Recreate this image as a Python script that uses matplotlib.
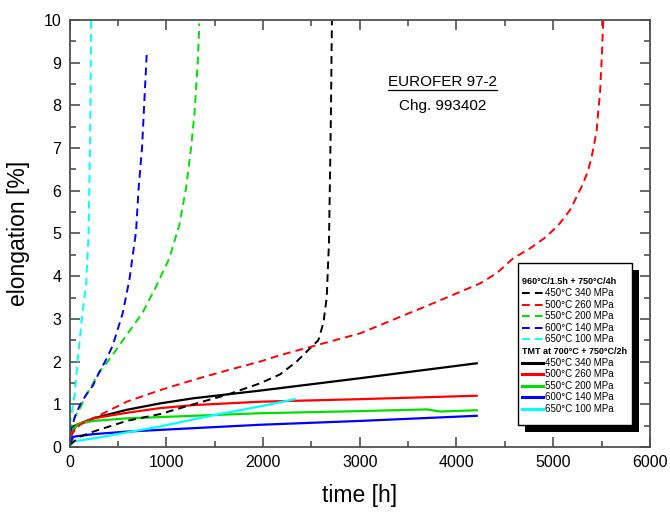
import matplotlib.pyplot as plt
from matplotlib.patches import Rectangle

plt.rcParams['font.family'] = ['Liberation Sans', 'DejaVu Sans']

# 960°C/1.5h + 750°C/4h (dashed)
t_d450 = [0, 106, 244, 589, 934, 1278, 1623, 1968, 2175, 2347, 2485, 2571, 2623, 2658, 2681, 2692, 2702, 2709, 2712]
e_d450 = [0.05, 0.24, 0.36, 0.61, 0.77, 1.0, 1.22, 1.49, 1.7, 2.0, 2.31, 2.5, 2.9, 3.5, 4.77, 6.33, 7.89, 9.45, 10.0]
t_d500 = [0, 106, 244, 589, 934, 1278, 1623, 1968, 2175, 3002, 3795, 4243, 4416, 4587, 4760, 4933, 5070,
          5174, 5243, 5311, 5363, 5398, 5425, 5450, 5467, 5484, 5501, 5518]
e_d500 = [0.25, 0.52, 0.67, 1.06, 1.33, 1.57, 1.79, 2.0, 2.15, 2.66, 3.4, 3.83, 4.07, 4.42, 4.65, 4.93, 5.24,
          5.55, 5.86, 6.18, 6.49, 6.8, 7.11, 7.42, 7.89, 8.28, 9.06, 10.0]
t_d550 = [0, 50, 106, 169, 203, 306, 393, 479, 582, 755, 892, 1030, 1134, 1203, 1255, 1289, 1323, 1341]
e_d550 = [0.35, 0.7, 0.9, 1.22, 1.33, 1.76, 2.0, 2.27, 2.6, 3.15, 3.75, 4.42, 5.2, 6.06, 7.0, 7.78, 8.95, 9.92]
t_d600 = [0, 55, 106, 169, 244, 272, 375, 444, 548, 617, 686, 713, 748, 772, 796]
e_d600 = [0.3, 0.71, 0.98, 1.22, 1.45, 1.6, 2.04, 2.37, 3.13, 3.91, 5.04, 6.06, 7.0, 8.09, 9.18]
t_d650 = [0, 50, 90, 130, 170, 195, 210, 222]
e_d650 = [0.5, 1.2, 2.2, 3.1, 3.8, 5.0, 7.0, 10.0]

# TMT at 700°C + 750°C/2h (solid)
t_s450 = [0, 38, 244, 589, 934, 1278, 1623, 1968, 3002, 4209]
e_s450 = [0.1, 0.48, 0.67, 0.87, 1.02, 1.14, 1.23, 1.32, 1.61, 1.96]
t_s500 = [0, 72, 244, 589, 934, 1278, 1623, 1968, 3002, 4209]
e_s500 = [0.2, 0.52, 0.67, 0.8, 0.91, 0.98, 1.02, 1.06, 1.12, 1.2]
t_s550 = [0, 20, 106, 244, 589, 1278, 1968, 3002, 3693, 3831, 4209]
e_s550 = [0.2, 0.4, 0.55, 0.61, 0.67, 0.73, 0.79, 0.84, 0.88, 0.83, 0.86]
t_s600 = [0, 38, 244, 589, 1278, 1968, 3002, 4209]
e_s600 = [0.05, 0.24, 0.3, 0.36, 0.44, 0.52, 0.61, 0.73]
t_s650 = [0, 40, 244, 934, 1500, 1968, 2330]
e_s650 = [0.0, 0.13, 0.2, 0.48, 0.75, 0.95, 1.12]

labels = ["450°C 340 MPa", "500°C 260 MPa", "550°C 200 MPa", "600°C 140 MPa", "650°C 100 MPa"]
headers = ["960°C/1.5h + 750°C/4h", "TMT at 700°C + 750°C/2h"]
colors = ["black", "red", "#00e000", "blue", "cyan"]
dashed = [(t_d450, e_d450), (t_d500, e_d500), (t_d550, e_d550), (t_d600, e_d600), (t_d650, e_d650)]
solid = [(t_s450, e_s450), (t_s500, e_s500), (t_s550, e_s550), (t_s600, e_s600), (t_s650, e_s650)]

fig = plt.figure(figsize=(6.7, 5.12), dpi=100)
ax = fig.add_axes([0.104, 0.127, 0.866, 0.834])

dash = (0, (4, 2.6))
for (t, e), c in zip(solid, colors):
    ax.plot(t, e, color=c, lw=1.6)
for (t, e), c in zip(dashed, colors):
    ax.plot(t, e, color=c, lw=1.4, ls=dash)

ax.set_xlim(0, 6000)
ax.set_ylim(0, 10)
ax.set_xticks(range(0, 6001, 1000))
ax.set_xticks(range(500, 6000, 1000), minor=True)
ax.set_yticks(range(0, 11))
ax.set_yticks([i + 0.5 for i in range(10)], minor=True)
sc = '#505050'
for s in ax.spines.values():
    s.set_color(sc)
    s.set_linewidth(1.3)
ax.tick_params(which='both', direction='in', top=True, right=True, color=sc, width=1.2,
               labelsize=11.5, pad=6)
ax.tick_params(which='major', length=7)
ax.tick_params(which='minor', length=4)
ax.set_xlabel("time [h]", fontsize=16.5, labelpad=10)
ax.set_ylabel("elongation [%]", fontsize=16.5, labelpad=10)

t1 = ax.text(0.643, 0.845, "EUROFER 97-2", transform=ax.transAxes, ha='center', va='baseline', fontsize=11)
ax.text(0.643, 0.789, "Chg. 993402", transform=ax.transAxes, ha='center', va='baseline', fontsize=11)

# legend box with black drop shadow (axes fraction)
bx0, bx1, by0, by1 = 0.7726, 0.9689, 0.0515, 0.4309
sdx, sdy = 0.012, 0.0164
ax.add_patch(Rectangle((bx0 + sdx, by0 - sdy), bx1 - bx0, by1 - by0, transform=ax.transAxes,
                       facecolor='black', edgecolor='none', zorder=5, clip_on=False))
ax.add_patch(Rectangle((bx0, by0), bx1 - bx0, by1 - by0, transform=ax.transAxes,
                       facecolor='white', edgecolor='black', lw=1.0, zorder=5.1, clip_on=False))

hx0, hx1, tx = 0.7789, 0.8156, 0.8199
row_top = (447 - 281.5) / 427
row_h = 11.6 / 427
row = 0
for g, (hdr, style, lw) in enumerate([(headers[0], dash, 1.4), (headers[1], '-', 2.2)]):
    y = row_top - row * row_h
    ax.text(hx0, y, hdr, transform=ax.transAxes, fontsize=6.5, fontweight='bold',
            va='center', ha='left', zorder=6)
    row += 1
    for lab, c in zip(labels, colors):
        y = row_top - row * row_h
        ax.plot([hx0, hx1], [y, y], transform=ax.transAxes, color=c, lw=lw, ls=style,
                clip_on=False, zorder=6)
        ax.text(tx, y, lab, transform=ax.transAxes, fontsize=7, va='center', ha='left', zorder=6)
        row += 1

# underline for the material name
fig.canvas.draw()
r = fig.canvas.get_renderer()
inv = ax.transAxes.inverted()
tb = t1.get_window_extent(r)
(ux0, uy), (ux1, _) = inv.transform([[tb.x0, tb.y0 - 1], [tb.x1, tb.y0]])
ax.plot([ux0, ux1], [uy, uy], transform=ax.transAxes, color='black', lw=0.9)

fig.savefig("out.png", dpi=100)
